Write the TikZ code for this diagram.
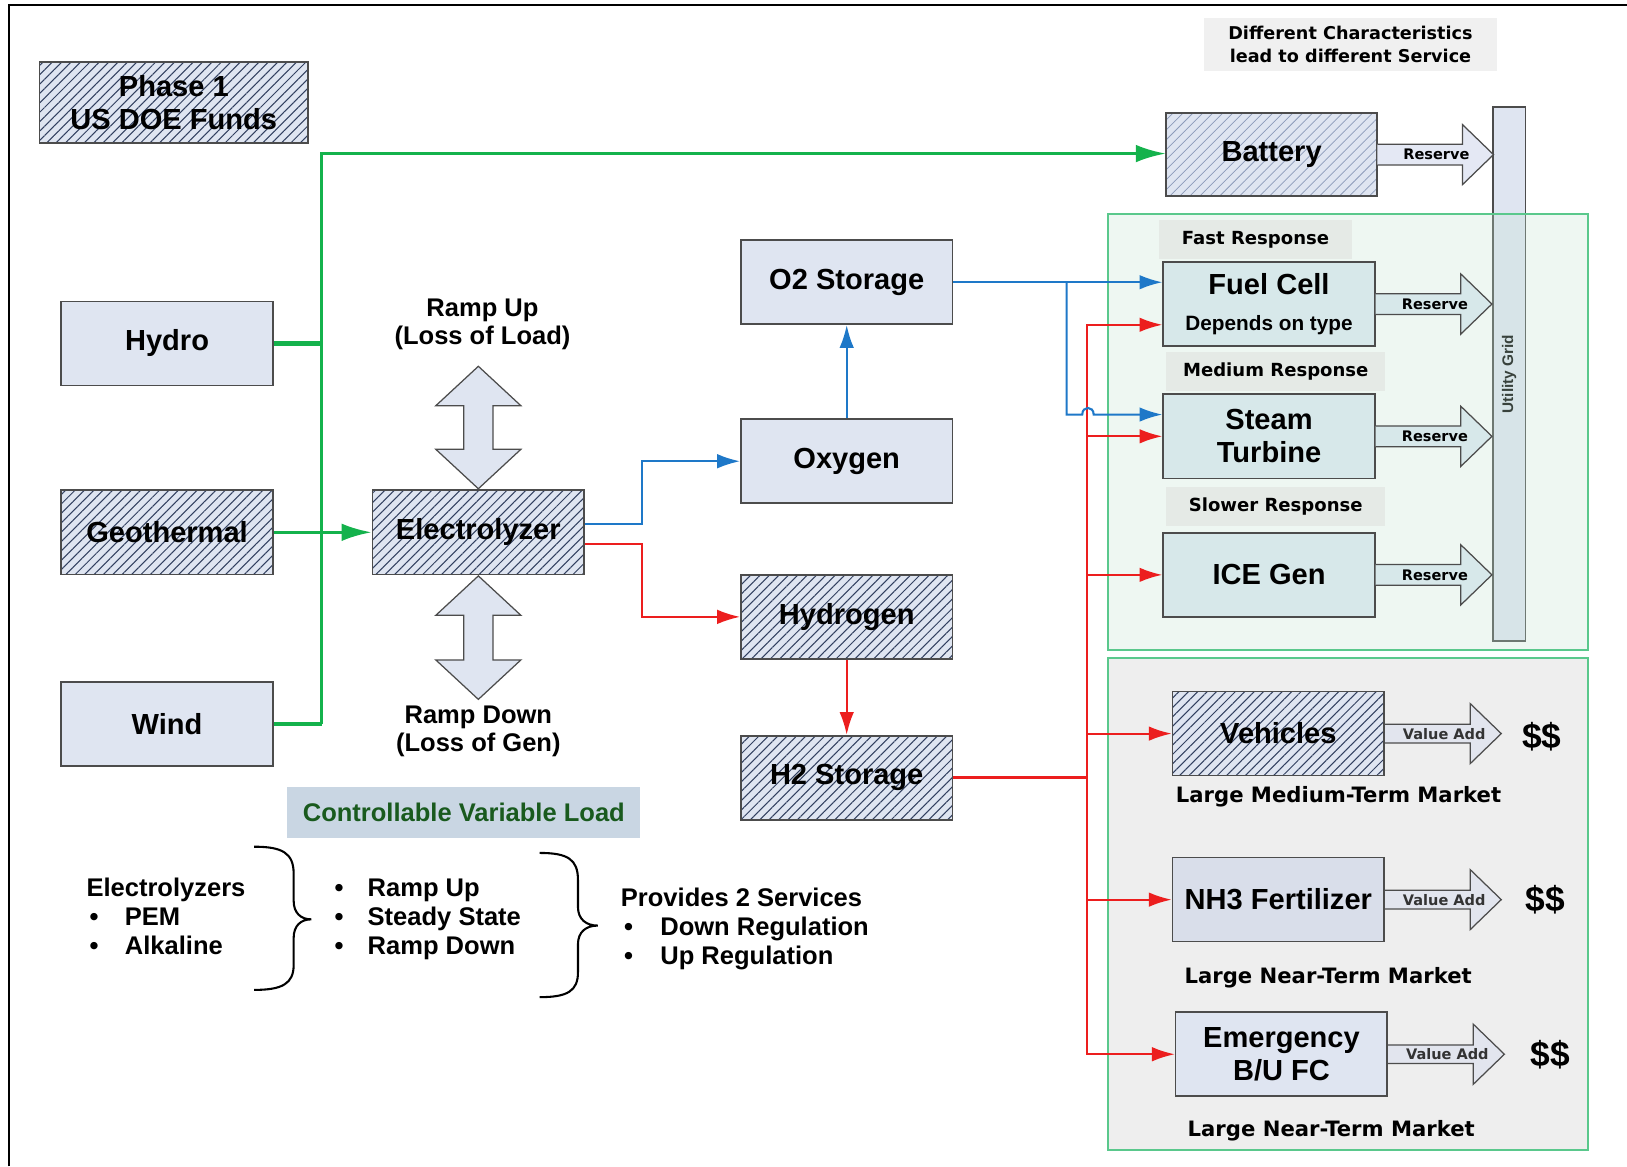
\documentclass[tikz,border=0pt]{standalone}
\usepackage{fontspec}
\setmainfont{Liberation Sans}
\newfontfamily\dejavu{DejaVu Sans}
\usepackage{tikz}
\usetikzlibrary{arrows.meta, patterns.meta}
\definecolor{boxblue}{RGB}{223,229,241}
\definecolor{boxteal}{RGB}{215,232,234}
\definecolor{nhfill}{RGB}{217,222,234}
\definecolor{hatchcol}{RGB}{50,64,96}
\definecolor{lighthatch}{RGB}{140,155,185}
\definecolor{flowgreen}{RGB}{20,178,76}
\definecolor{flowblue}{RGB}{30,120,200}
\definecolor{flowred}{RGB}{236,30,30}
\definecolor{regiongreen}{RGB}{90,200,140}
\definecolor{regionfill}{RGB}{196,228,210}
\definecolor{marketgrey}{RGB}{238,238,238}
\definecolor{tagfill}{RGB}{229,234,230}
\definecolor{notefill}{RGB}{240,240,240}
\definecolor{loadfill}{RGB}{201,214,227}
\definecolor{loadtext}{RGB}{25,90,30}
\definecolor{reservefill}{RGB}{228,232,244}
\definecolor{valuefill}{RGB}{226,229,238}
\tikzstyle{process} = [rectangle, draw=black!70, line width=0.8pt, fill=boxblue, minimum width=102pt, minimum height=40.5pt, inner sep=2pt, text centered, align=center, font=\fontsize{14}{16}\selectfont\bfseries]
\tikzstyle{hatched} = [process, preaction={fill=boxblue}, pattern={Lines[angle=45, distance=3.2pt, line width=0.5pt]}, pattern color=hatchcol]
\tikzstyle{lighthatched} = [process, preaction={fill=boxblue}, pattern={Lines[angle=45, distance=3.4pt, line width=0.35pt]}, pattern color=lighthatch]
\tikzstyle{tealbox} = [process, fill=boxteal]
\tikzstyle{tag} = [rectangle, fill=tagfill, minimum height=19pt, inner sep=0pt, font=\dejavu\bfseries\fontsize{8.7}{10}\selectfont]
\tikzstyle{market} = [font=\dejavu\bfseries\fontsize{10.2}{12}\selectfont]
\tikzstyle{money} = [font=\bfseries\fontsize{17}{20}\selectfont]
\tikzstyle{notes} = [align=left, inner sep=0pt, font=\fontsize{12.3}{14}\selectfont\bfseries]
\tikzstyle{ramptext} = [align=center, font=\fontsize{12.3}{13.5}\selectfont\bfseries]
\tikzstyle{reservetext} = [font=\dejavu\bfseries\fontsize{7}{9}\selectfont]
\tikzstyle{valuetext} = [font=\dejavu\bfseries\fontsize{7}{9}\selectfont, text=black!80]
\tikzstyle{greenline} = [color=flowgreen, line width=1.6pt]
\tikzstyle{greenarrow} = [greenline, -{Latex[length=14.5pt, width=8.5pt]}]
\tikzstyle{blueline} = [color=flowblue, line width=1pt]
\tikzstyle{bluearrow} = [blueline, -{Latex[length=11pt, width=7pt]}]
\tikzstyle{redline} = [color=flowred, line width=1pt]
\tikzstyle{redarrow} = [redline, -{Latex[length=11pt, width=7pt]}]
% block arrow from the east side of a box
\newcommand{\blockarrow}[5]{%
  \draw[draw=black!70, line width=0.6pt, fill=#3, shift={(#1.east)}]
    (0,-#5) -- (82,-#5) -- (82,-29) -- (112,0) -- (82,29) -- (82,#5) -- (0,#5);
  \node[#4] (#1out) at ([xshift=28.5pt]#1.east) {#2};}
% vertical double arrow: x, top tip, bottom tip
\newcommand{\ramparrow}[3]{%
  \draw[draw=black!70, line width=0.6pt, fill=boxblue] (#1,#2) -- ++(41,38) -- ++(-27,0)
    -- (#1+14,#3-38) -- ++(27,0) -- (#1,#3) -- ++(-41,-38) -- ++(27,0)
    -- (#1-14,#2+38) -- ++(-27,0) -- cycle;}
\newcommand{\bitem}[1]{\makebox[#1][l]{\hspace{1.5pt}\textbullet}}

\begin{document}
\begin{tikzpicture}[x=0.5pt, y=-0.5pt]
\useasboundingbox (0,0) rectangle (1568,1124);
\draw[line width=1pt] (9,1124) -- (9,5) -- (1568,5);
%右侧区域
\node[draw=black!70, line width=0.8pt, fill=boxblue, rotate=90, minimum width=257.5pt, minimum height=15.5pt, inner sep=0pt, font=\bfseries\fontsize{7.4}{9}\selectfont](grid) at (1454.5,360.5){Utility Grid};
\draw[draw=regiongreen, line width=1pt, fill=regionfill, fill opacity=0.29] (1068,206) rectangle (1530,626);
\draw[draw=regiongreen, line width=1pt, fill=marketgrey] (1068,634) rectangle (1530,1108);
\node[rectangle, fill=notefill, minimum width=141.5pt, minimum height=25.5pt, align=center, font=\dejavu\bfseries\fontsize{8.5}{11}\selectfont](diff) at (1301.5,42.5){Different Characteristics\\lead to different Service};
\node[tag, minimum width=93pt](fast) at (1210,231){Fast Response};
\node[tag, minimum width=105.5pt](medium) at (1229.5,358){Medium Response};
\node[tag, minimum width=105.5pt](slow) at (1229.5,488){Slower Response};
%方框
\node[hatched, minimum width=129.5pt, minimum height=39pt](phase) at (167.5,99){Phase 1\\US DOE Funds};
\node[process](hydro) at (161,331){Hydro};
\node[hatched](geo) at (161,513){Geothermal};
\node[process](wind) at (161,697.5){Wind};
\node[hatched](elec) at (461,513){Electrolyzer};
\node[process](o2) at (816,272){O2 Storage};
\node[process](oxy) at (816,444.5){Oxygen};
\node[hatched](hyd) at (816,594.5){Hydrogen};
\node[hatched](h2) at (816,749.5){H2 Storage};
\node[lighthatched, minimum width=101.5pt, minimum height=40pt](bat) at (1225.5,149){Battery};
\node[tealbox](fuel) at (1223,293){Fuel Cell\\[1pt]{\fontsize{10}{12}\selectfont Depends on type}};
\node[tealbox](steam) at (1223,420.5){Steam\\Turbine};
\node[tealbox](ice) at (1223,554){ICE Gen};
\node[hatched](veh) at (1232,707){Vehicles};
\node[process, fill=nhfill](nh3) at (1232,867){NH3 Fertilizer};
\node[process](emerg) at (1235,1016){Emergency\\B/U FC};
\blockarrow{bat}{Reserve}{reservefill}{reservetext}{10}
\blockarrow{fuel}{Reserve}{boxteal}{reservetext}{10}
\blockarrow{steam}{Reserve}{boxteal}{reservetext}{10}
\blockarrow{ice}{Reserve}{boxteal}{reservetext}{10}
\blockarrow{veh}{Value Add}{valuefill}{valuetext}{9}
\blockarrow{nh3}{Value Add}{valuefill}{valuetext}{9}
\blockarrow{emerg}{Value Add}{valuefill}{valuetext}{9}
\node[market](mk1) at (1290,768){Large Medium-Term Market};
\node[market](mk2) at (1280,942){Large Near-Term Market};
\node[market](mk3) at (1283,1090){Large Near-Term Market};
\node[money](cash1) at (1486,710){\$\$};
\node[money](cash2) at (1489,867){\$\$};
\node[money](cash3) at (1494,1016){\$\$};
%调节
\ramparrow{461}{353}{471}
\ramparrow{461}{555}{674}
\node[ramptext](rampup) at (465,313){Ramp Up\\(Loss of Load)};
\node[ramptext](rampdown) at (461,705){Ramp Down\\(Loss of Gen)};
\node[rectangle, fill=loadfill, minimum width=170pt, minimum height=25pt, text=loadtext, font=\fontsize{12.3}{14}\selectfont\bfseries](cvl) at (447,783){Controllable Variable Load};
\node[notes, anchor=west](types) at (83,883){Electrolyzers\\\bitem{18.5pt}PEM\\\bitem{18.5pt}Alkaline};
\node[notes, anchor=west](modes) at (319,886){\bitem{17.5pt}Ramp Up\\\bitem{17.5pt}Steady State\\\bitem{17.5pt}Ramp Down};
\node[notes, anchor=west](services) at (598,895){Provides 2 Services\\\bitem{19pt}Down Regulation\\\bitem{19pt}Up Regulation};
\draw[line width=1pt] (245,816) .. controls (272,816) and (283,822) .. (283,842) -- (283,868) .. controls (283,880) and (290,886) .. (300,886) .. controls (290,886) and (283,892) .. (283,904) -- (283,930) .. controls (283,948) and (272,954) .. (245,954);
\draw[line width=1pt] (520,822) .. controls (547,822) and (557,828) .. (557,848) -- (557,874) .. controls (557,886) and (565,892) .. (576,892) .. controls (565,892) and (557,898) .. (557,910) -- (557,937) .. controls (557,955) and (547,961) .. (520,961);
%连接
\coordinate (gtop) at (310,148);
\coordinate (bsplit) at (1028,272);
\coordinate (rsplit) at (1048,749.5);
\draw[greenline, line width=2pt] (hydro.east) -- (hydro.east -| gtop);
\draw[greenline, line width=2pt] (wind.east) -- (wind.east -| gtop);
\draw[greenarrow] (wind.east -| gtop) -- (gtop) -- (gtop -| bat.west);
\draw[greenarrow] (geo.east) -- (elec.west);
\draw[bluearrow] ([yshift=4pt]elec.east) -- ++(55,0) |- (oxy.west);
\draw[redarrow] ([yshift=-5.5pt]elec.east) -- ++(55,0) |- (hyd.west);
\draw[bluearrow] (oxy.north) -- (o2.south);
\draw[redarrow] (hyd.south) -- (h2.north);
\draw[redline, line width=1.5pt] (h2.east) -- (rsplit);
\draw[redarrow] (rsplit) |- ([yshift=-10pt]fuel.west);
\draw[redarrow] (rsplit) |- (steam.west);
\draw[redarrow] (rsplit) |- (ice.west);
\draw[redarrow] (rsplit) |- (veh.west);
\draw[redarrow] (rsplit) |- (nh3.west);
\draw[redarrow] (rsplit) |- (emerg.west);
\draw[bluearrow] (o2.east) -- (fuel.west |- o2.east);
\draw[bluearrow] (bsplit) |- (1043,399.5) .. controls (1043,391) and (1054,391) .. (1054,399.5) -- ([yshift=10.5pt]steam.west);
\end{tikzpicture}
\end{document}
